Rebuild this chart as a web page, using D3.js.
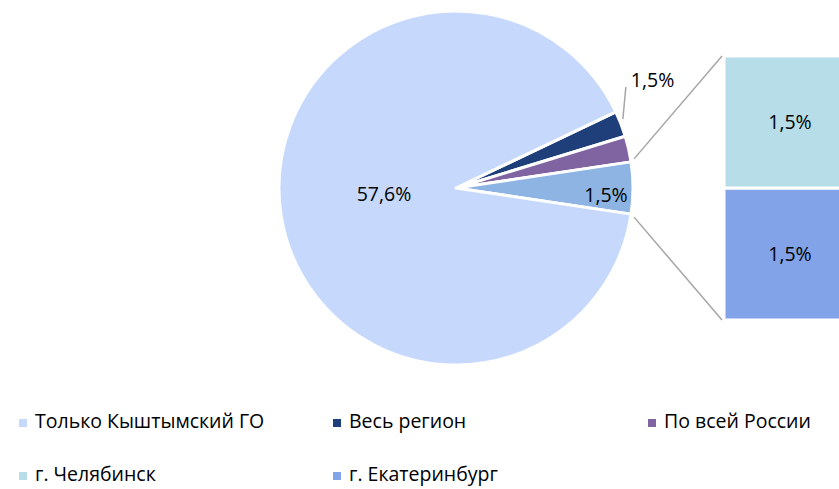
<!DOCTYPE html>
<html>
<head>
<meta charset="utf-8">
<script src="https://cdn.jsdelivr.net/npm/d3@7"></script>
<style>
  body { margin: 0; background: #fff; }
  text { font-family: "Open Sans", "Noto Sans", sans-serif; fill: #000; }
</style>
</head>
<body>
<div id="chart"></div>
<script>
// data
var pieNames = ["Весь регион", "По всей России", "Другое", "Только Кыштымский ГО"];
var pieValues = [1.5, 1.5, 3.0, 57.6];
var pieLabels = ["1,5%", "", "1,5%", "57,6%"];
var pieColors = ["#1F3F7A", "#8064A2", "#8DB4E2", "#C6D9FC"];

var barNames = ["г. Екатеринбург", "г. Челябинск"];
var barValues = [1.5, 1.5];
var barLabels = ["1,5%", "1,5%"];
var barColors = ["#82A3E8", "#B7DDE8"];

var legendNames = ["Только Кыштымский ГО", "Весь регион", "По всей России", "г. Челябинск", "г. Екатеринбург"];
var legendColors = ["#C6D9FC", "#1F3F7A", "#8064A2", "#B7DDE8", "#82A3E8"];

var svgWidth = 839;
var svgHeight = 489;
var fs = "19.5px";

var svg = d3.select("#chart")
  .append("svg")
  .attr("width", svgWidth)
  .attr("height", svgHeight);

var cx = 456, cy = 188, r = 177;

// the "other" slice is centred on the right-hand horizontal
var total = d3.sum(pieValues);
var before = pieValues[0] + pieValues[1] + pieValues[2] / 2;
var start = Math.PI / 2 - before / total * 2 * Math.PI;

var pie = d3.pie().sort(null).startAngle(start).endAngle(start + 2 * Math.PI);
var arcs = pie(pieValues);
var arc = d3.arc().innerRadius(0).outerRadius(r);

var pieG = svg.append("g").attr("transform", `translate(${cx}, ${cy})`);

pieG.selectAll("path")
  .data(arcs)
  .enter()
  .append("path")
  .attr("d", arc)
  .attr("fill", (d, i) => pieColors[i])
  .attr("stroke", "#fff")
  .attr("stroke-width", 3)
  .attr("stroke-linejoin", "round");

// point on the circle for a d3 angle
function pt(a, rr) {
  return [Math.sin(a) * rr, -Math.cos(a) * rr];
}

// main slice label
pieG.append("text")
  .attr("x", -72)
  .attr("y", 13)
  .attr("text-anchor", "middle")
  .attr("font-size", fs)
  .text(pieLabels[3]);

// other slice label, inside
var oth = arcs[2];
var op = pt((oth.startAngle + oth.endAngle) / 2, r - 27);
pieG.append("text")
  .attr("x", op[0])
  .attr("y", op[1] + 14)
  .attr("text-anchor", "middle")
  .attr("font-size", fs)
  .text(pieLabels[2]);

// region slice label, outside with leader line
var reg = arcs[0];
var lp = pt((reg.startAngle + reg.endAngle) / 2, r + 2);
pieG.append("line")
  .attr("x1", lp[0]).attr("y1", lp[1] - 4)
  .attr("x2", lp[0] + 3).attr("y2", -101)
  .attr("stroke", "#A6A6A6")
  .attr("stroke-width", 1.5);
pieG.append("text")
  .attr("x", lp[0] + 8)
  .attr("y", -101)
  .attr("font-size", fs)
  .text(pieLabels[0]);

// bar of pie
var barX = 724, barW = 130;
var yScale = d3.scaleLinear()
  .domain([0, d3.sum(barValues)])
  .range([320, 56]);

var stacked = [];
var acc = 0;
barValues.forEach(function(v, i) {
  stacked.push({ y0: acc, y1: acc + v, i: i });
  acc += v;
});

svg.selectAll("rect.bar")
  .data(stacked)
  .enter()
  .append("rect")
  .attr("class", "bar")
  .attr("x", barX)
  .attr("y", d => yScale(d.y1))
  .attr("width", barW)
  .attr("height", d => yScale(d.y0) - yScale(d.y1))
  .attr("fill", d => barColors[d.i])
  .attr("stroke", "#fff")
  .attr("stroke-width", 3);

svg.selectAll("text.barlabel")
  .data(stacked)
  .enter()
  .append("text")
  .attr("class", "barlabel")
  .attr("x", barX + 66)
  .attr("y", d => (yScale(d.y0) + yScale(d.y1)) / 2 + 7)
  .attr("text-anchor", "middle")
  .attr("font-size", fs)
  .text(d => barLabels[d.i]);

// connector lines
var p1 = pt(oth.startAngle, r);
var p2 = pt(oth.endAngle, r);
svg.append("line")
  .attr("x1", cx + p1[0] + 3).attr("y1", cy + p1[1] - 3)
  .attr("x2", barX - 2).attr("y2", yScale(d3.sum(barValues)))
  .attr("stroke", "#A6A6A6").attr("stroke-width", 1.5);
svg.append("line")
  .attr("x1", cx + p2[0] + 3).attr("y1", cy + p2[1] + 3)
  .attr("x2", barX - 2).attr("y2", yScale(0))
  .attr("stroke", "#A6A6A6").attr("stroke-width", 1.5);

// legend
var legX = [19, 333, 648, 19, 333];
var legY = [428, 428, 428, 481, 481];

var leg = svg.selectAll("g.leg")
  .data(legendNames)
  .enter()
  .append("g")
  .attr("class", "leg")
  .attr("transform", (d, i) => `translate(${legX[i]}, ${legY[i]})`);

leg.append("rect")
  .attr("x", 0)
  .attr("y", -9)
  .attr("width", 8)
  .attr("height", 8)
  .attr("fill", (d, i) => legendColors[i]);

leg.append("text")
  .attr("x", 16)
  .attr("y", 0)
  .attr("font-size", fs)
  .text(d => d);
</script>
</body>
</html>
